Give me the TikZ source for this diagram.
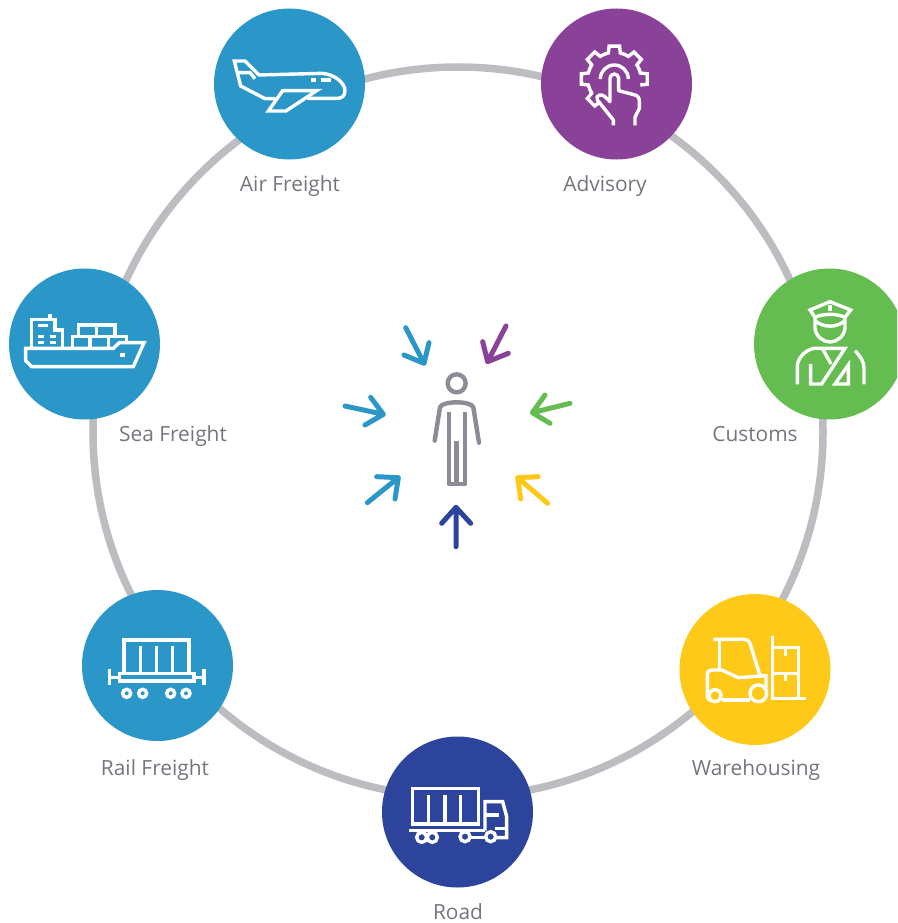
\documentclass[tikz,border=0pt]{standalone}
\usepackage{fontspec}
\setmainfont{Open Sans}
\definecolor{cblue}{HTML}{2B96C8}
\definecolor{cpurple}{HTML}{8A4299}
\definecolor{cgreen}{HTML}{65BC50}
\definecolor{cyellow}{HTML}{FEC919}
\definecolor{cnavy}{HTML}{2C449B}
\definecolor{cring}{HTML}{BCBDC1}
\definecolor{cperson}{HTML}{8C8C96}
\definecolor{ctext}{HTML}{75767D}
\tikzset{
  hub/.style={circle,inner sep=0pt,minimum size=151pt},
  lab/.style={inner sep=0pt,text=ctext,font=\fontsize{20.9}{24}\selectfont,anchor=base},
  icon/.style={draw=white,line width=3.4pt,line join=miter,line cap=butt},
  crop/.style={scale=0.33333},
  pointer/.style={line width=5pt,line cap=round,line join=round},
  figure/.style={draw=cperson,line width=4.4pt,line cap=round,line join=round},
}
\begin{document}
\begin{tikzpicture}[x=1pt,y=-1pt]
\clip (0,0) rectangle (897,923);
\node[circle,draw=cring,line width=7.5pt,inner sep=0pt,minimum size=730pt] (ring) at (458,432) {};
\node[hub,fill=cblue] (air) at (289.5,84) {};
\node[hub,fill=cpurple] (adv) at (616.5,84) {};
\node[hub,fill=cgreen] (cus) at (829.5,344) {};
\node[hub,fill=cblue] (sea) at (84.5,344) {};
\node[hub,fill=cblue] (rail) at (157.5,665.5) {};
\node[hub,fill=cnavy] (road) at (457.5,812) {};
\node[hub,fill=cyellow] (ware) at (755,669.5) {};
\node[lab] (lair) at (290,191) {Air Freight};
\node[lab] (ladv) at (605,191) {Advisory};
\node[lab] (lcus) at (755,441) {Customs};
\node[lab] (lsea) at (173,441) {Sea Freight};
\node[lab] (lrail) at (155,775) {Rail Freight};
\node[lab] (lroad) at (458,919) {Road};
\node[lab] (lware) at (756,775) {Warehousing};
% plane
\begin{scope}[shift={(200,0)},crop]
\draw[icon] (225,296) -- (195,296) -- (122,258) -- (103,183) -- (135,183) -- (177,225) -- (365,220) .. controls (405,222) and (435,250) .. (435,272) .. controls (435,288) and (425,295) .. (412,295) -- (322,295);
\draw[icon] (248,272) -- (350,272) -- (258,333) -- (205,333) -- cycle;
\draw[icon] (115,218) -- (150,218) -- (165,236);
\draw[icon] (333,240) -- (348,240) (362,240) -- (392,240);
\end{scope}
% gear and hand
\begin{scope}[shift={(530,0)},crop]
\begin{scope}[shift={(253,237)}]
\draw[icon] (122:80) \foreach \t in {135,180,225,270,315,360} { -- (\t-13:80) -- (\t-9:100) -- (\t+9:100) -- (\t+13:80) \ifnum\t<360 arc[start angle=\t+13,end angle=\t+32,radius=80]\fi };
\draw[icon] (180:42) arc[start angle=180,end angle=360,radius=42];
\end{scope}
\draw[icon,line join=round] (250,376) -- (250,360) -- (202,300) .. controls (195,285) and (215,280) .. (225,290) -- (240,305) -- (240,235) arc[start angle=180,end angle=360,radius=13] -- (266,272) -- (315,285) .. controls (325,288) and (328,295) .. (328,305) -- (328,325) -- (315,352) -- (315,376);
\end{scope}
% officer
\begin{scope}[shift={(740,260)},crop]
\draw[icon] (210,150) -- (270,125) -- (332,150) -- (315,172) .. controls (290,160) and (250,160) .. (225,172) -- cycle;
\draw[icon] (270,135) -- (270,152);
\draw[icon] (225,172) -- (225,205) .. controls (228,230) and (250,246) .. (270,246) .. controls (290,246) and (312,230) .. (315,205) -- (315,172);
\draw[icon] (225,182) .. controls (250,204) and (290,204) .. (315,182);
\draw[icon] (172,373) -- (172,320) .. controls (172,295) and (195,270) .. (222,265) -- (315,265) -- (245,372) -- (212,372) -- (212,312);
\draw[icon] (248,267) -- (273,312);
\draw[icon] (285,372) -- (325,315) -- (325,372) -- cycle;
\draw[icon] (345,272) .. controls (362,290) and (372,305) .. (372,325) -- (372,373);
\end{scope}
% ship
\begin{scope}[shift={(0,260)},crop]
\draw[icon] (77,265) -- (340,265) -- (358,248) -- (432,248) -- (400,320) -- (95,320) -- (77,302) -- cycle;
\draw[icon] (95,265) -- (95,178) -- (165,178) -- (165,210) -- (187,210) -- (187,265);
\draw[icon] (150,162) -- (150,178);
\draw[icon] (115,196) -- (145,196) (115,230) -- (132,230) (150,230) -- (167,230) (115,248) -- (132,248) (150,248) -- (167,248);
\draw[icon] (235,230) -- (235,195) -- (345,195) -- (345,230) (290,195) -- (290,230);
\draw[icon] (217,265) -- (217,230) -- (380,230) -- (380,248) (270,230) -- (270,265) (325,230) -- (325,265);
\draw[icon] (360,285) -- (376,285);
\end{scope}
% rail wagon
\begin{scope}[shift={(70,580)},crop]
\draw[icon] (162,280) -- (162,180) -- (357,180) -- (357,280);
\draw[icon] (212,198) -- (212,280) (260,198) -- (260,280) (307,198) -- (307,280);
\draw[icon] (148,280) rectangle (372,303);
\draw[icon] (118,268) -- (118,315) (118,292) -- (148,292);
\draw[icon] (402,268) -- (402,315) (372,292) -- (402,292);
\foreach \w in {170,218,302,348} \draw[icon] (\w,340) circle[radius=12];
\end{scope}
% truck
\begin{scope}[shift={(370,730)},crop]
\draw[icon] (127,175) rectangle (325,282);
\draw[icon] (175,195) -- (175,282) (225,195) -- (225,282) (272,195) -- (272,282);
\draw[icon] (118,302) -- (345,302);
\foreach \w/\y in {155/322,187/322,285/320,362/320} \draw[icon] (\w,\y) circle[radius=15];
\draw[icon] (345,302) -- (345,215) -- (398,215) -- (410,260) -- (410,323) -- (378,323);
\draw[icon] (345,255) -- (388,255) (375,295) -- (410,295) (300,322) -- (347,322);
\end{scope}
% forklift
\begin{scope}[shift={(670,585)},crop]
\draw[icon] (130,163) -- (222,163) .. controls (235,163) and (240,172) .. (243,185) -- (270,272);
\draw[icon] (148,163) -- (148,255);
\draw[icon] (125,345) .. controls (115,345) and (112,340) .. (112,330) -- (112,270) .. controls (112,260) and (118,255) .. (128,255) -- (155,255) -- (205,278) -- (288,272) -- (288,310);
\draw[icon] (155,345) -- (240,345);
\draw[icon] (135,332) circle[radius=18];
\draw[icon] (265,325) circle[radius=25];
\draw[icon] (308,152) -- (308,340) -- (407,340);
\draw[icon] (308,188) -- (385,188) -- (385,340) (308,265) -- (385,265);
\draw[icon] (347,190) -- (347,213) (347,265) -- (347,288);
\end{scope}
% person and arrows
\begin{scope}[shift={(330,310)},crop]
\draw[figure] (380,220) circle[radius=27];
\draw[figure] (314,392) -- (330,292) .. controls (335,272) and (425,272) .. (430,292) -- (447,398);
\draw[figure,line cap=butt] (357,307) -- (357,522) -- (405,522) -- (405,307);
\draw[figure,line cap=butt] (380,392) -- (380,522);
\draw[figure,line cap=butt,line width=3.6pt] (350,521) -- (412,521);
\draw[pointer,cblue] (227,53) -- (282,160) (222,135) -- (282,160) -- (297,98);
\draw[pointer,cpurple] (528,48) -- (473,155) (458,95) -- (473,155) -- (535,130);
\draw[pointer,cgreen] (720,280) -- (607,308) (645,255) -- (607,308) -- (660,340);
\draw[pointer,cyellow] (653,580) -- (563,503) (572,567) -- (563,503) -- (625,500);
\draw[pointer,cnavy] (378,710) -- (378,592) (335,640) -- (378,592) -- (422,640);
\draw[pointer,cblue] (112,578) -- (205,503) (140,500) -- (205,503) -- (195,567);
\draw[pointer,cblue] (45,288) -- (160,313) (122,262) -- (160,313) -- (105,345);
\end{scope}
\end{tikzpicture}
\end{document}
